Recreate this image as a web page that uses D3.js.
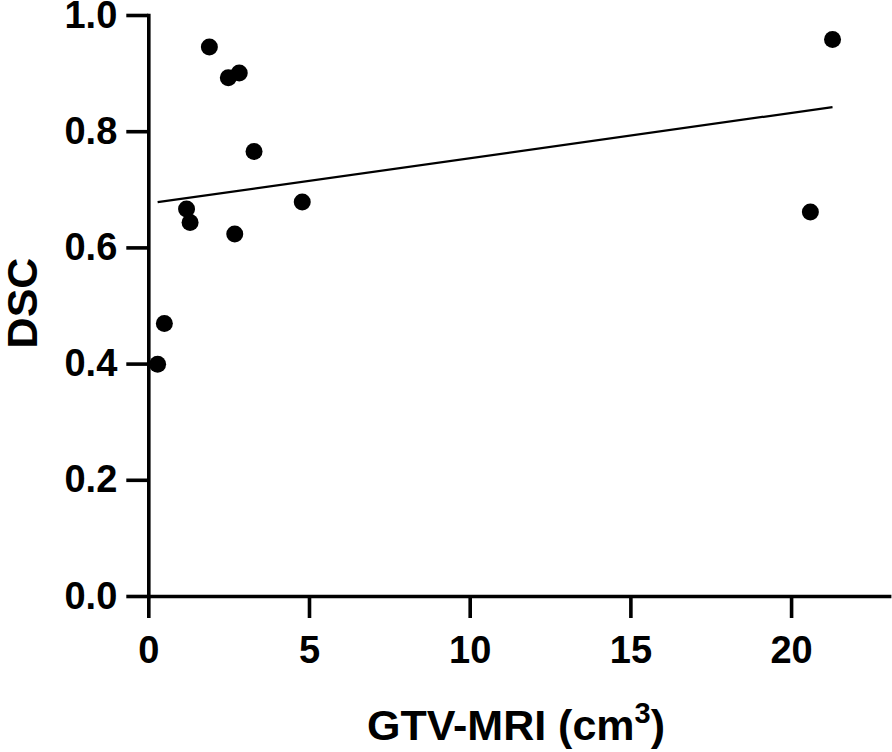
<!DOCTYPE html>
<html>
<head>
<meta charset="utf-8">
<script src="https://cdn.jsdelivr.net/npm/d3@7"></script>
<style>
  html, body { margin: 0; padding: 0; background: #fff; }
  svg { display: block; }
  text { font-family: "Liberation Sans", Arial, Helvetica, sans-serif; font-weight: bold; fill: #000; }
</style>
</head>
<body>
<svg id="chart" width="892" height="752"></svg>
<script>
// Data
const gtvMri = [0.29, 0.50, 1.19, 1.30, 1.90, 2.49, 2.83, 2.69, 3.29, 4.79, 20.60, 21.29];
const dsc    = [0.399, 0.469, 0.666, 0.643, 0.945, 0.892, 0.900, 0.623, 0.765, 0.678, 0.661, 0.958];
const xTicks = [0, 5, 10, 15, 20];
const yTicks = [0.0, 0.2, 0.4, 0.6, 0.8, 1.0];
const xLabel = "GTV-MRI (cm";
const xLabelSup = "3";
const yLabel = "DSC";

const svg = d3.select("#chart");
const x = d3.scaleLinear().domain([0, 23.05]).range([148.3, 889.1]);
const y = d3.scaleLinear().domain([0, 1]).range([596, 15]);

// Axes
const xAxis = d3.axisBottom(x).tickValues(xTicks).tickFormat(d3.format("d"))
  .tickSize(22).tickSizeOuter(0).tickPadding(18);
const yAxis = d3.axisLeft(y).tickValues(yTicks).tickFormat(d3.format(".1f"))
  .tickSize(22).tickSizeOuter(0).tickPadding(9);

const gx = svg.append("g").attr("transform", "translate(0,596)").call(xAxis);
const gy = svg.append("g").attr("transform", "translate(148.3,0)").call(yAxis);

[gx, gy].forEach(g => {
  g.select(".domain").attr("stroke", "#000").attr("stroke-width", 3.6).attr("stroke-linecap", "square");
  g.selectAll(".tick line").attr("stroke", "#000").attr("stroke-width", 3.6);
  g.selectAll(".tick text").style("font-size", "38px").style("font-weight", "bold")
    .style("font-family", '"Liberation Sans", Arial, sans-serif').attr("fill", "#000");
});

// Regression line (ordinary least squares)
const pts = gtvMri.map((v, i) => ({ x: v, y: dsc[i] }));
const mx = d3.mean(gtvMri), my = d3.mean(dsc);
const sxy = d3.sum(pts, p => (p.x - mx) * (p.y - my));
const sxx = d3.sum(pts, p => (p.x - mx) ** 2);
const slope = sxy / sxx, intercept = my - slope * mx;
const [xmin, xmax] = d3.extent(gtvMri);
const line = d3.line().x(d => x(d[0])).y(d => y(d[1]));
svg.append("path")
  .attr("d", line([[xmin, intercept + slope * xmin], [xmax, intercept + slope * xmax]]))
  .attr("stroke", "#000").attr("stroke-width", 2.2).attr("fill", "none");

// Points
svg.append("g").selectAll("circle").data(pts).join("circle")
  .attr("cx", d => x(d.x)).attr("cy", d => y(d.y)).attr("r", 8.5).attr("fill", "#000");

// Axis titles
const xt = svg.append("text").attr("x", 516).attr("y", 740).attr("text-anchor", "middle")
  .style("font-size", "43px");
xt.append("tspan").text(xLabel);
xt.append("tspan").text(xLabelSup).attr("dy", -17).style("font-size", "29px");
xt.append("tspan").text(")").attr("dy", 17);

svg.append("text").attr("transform", "translate(37,303) rotate(-90)")
  .attr("text-anchor", "middle").style("font-size", "43px").text(yLabel);
</script>
</body>
</html>
